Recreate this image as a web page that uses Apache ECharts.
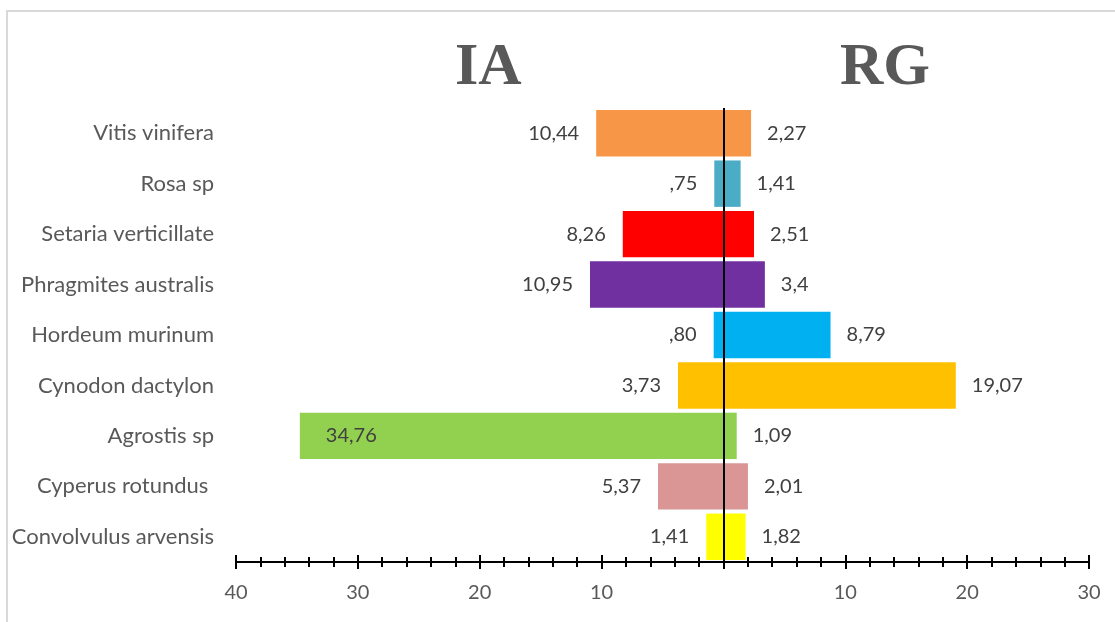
<!DOCTYPE html>
<html>
<head>
<meta charset="utf-8">
<script src="https://cdn.jsdelivr.net/npm/echarts@6/dist/echarts.min.js"></script>
<style>
html,body{margin:0;padding:0;background:#fff;}
#c{width:1115px;height:622px;}
</style>
</head>
<body>
<div id="c"></div>
<script>
const categories = ['Vitis vinifera','Rosa sp','Setaria verticillate','Phragmites australis','Hordeum murinum','Cynodon dactylon','Agrostis sp','Cyperus rotundus ','Convolvulus arvensis'];
const iaValues = [10.44, 0.75, 8.26, 10.95, 0.80, 3.73, 34.76, 5.37, 1.41];
const rgValues = [2.27, 1.41, 2.51, 3.4, 8.79, 19.07, 1.09, 2.01, 1.82];
const barColors = ['#F79646','#4BACC6','#FF0000','#7030A0','#00B0F0','#FFC000','#92D050','#D99694','#FFFF00'];
const titleLeft = 'IA';
const titleRight = 'RG';

const FONT = 'Lato';
const chart = echarts.init(document.getElementById('c'));

function fmtLeft(v){ let s = Math.abs(v).toFixed(2).replace('.', ','); if (s.startsWith('0')) s = s.slice(1); return s; }
function fmtRight(v){ return String(v).replace('.', ','); }

const leftData = iaValues.map((v,i)=>{
  const item = {value: -v, itemStyle:{color: barColors[i]}};
  if (v > 30) item.label = {position:'insideLeft', distance: 26};
  return item;
});
const rightData = rgValues.map((v,i)=>({value: v, itemStyle:{color: barColors[i]}}));

const labelStyle = {fontFamily: FONT, fontSize: 20, color: '#404040'};

const xCommon = {
  type: 'value', min: -40, max: 30, interval: 10,
  splitLine: {show:false},
  axisLine: {show:true, lineStyle:{color:'#000', width:2}},
};

chart.setOption({
  animation: false,
  backgroundColor: '#fff',
  graphic: [
    {type:'rect', shape:{x:7, y:11, width:1200, height:700}, style:{fill:'none', stroke:'#d9d9d9', lineWidth:2}, silent:true},
    {type:'text', left: 487 - 32, top: 38, style:{text: titleLeft, font: 'bold 60px "Liberation Serif"', fill:'#595959'}},
    {type:'text', left: 883 - 43, top: 38, style:{text: titleRight, font: 'bold 60px "Liberation Serif"', fill:'#595959'}}
  ],
  grid: {left: 236, right: 26, top: 108, bottom: 60, containLabel: false},
  xAxis: [
    Object.assign({}, xCommon, {
      axisTick: {show:true, length:7, inside:false, lineStyle:{color:'#000', width:2}},
      minorTick: {show:true, splitNumber:5, length:5, lineStyle:{color:'#000', width:2}},
      axisLabel: {show:true, margin: 21, fontFamily: FONT, fontSize: 20, color:'#595959',
        formatter: v => v === 0 ? '' : String(Math.abs(v))}
    }),
    Object.assign({}, xCommon, {
      position: 'bottom',
      axisTick: {show:true, length:7, inside:true, lineStyle:{color:'#000', width:2}},
      minorTick: {show:true, splitNumber:5, length:5, lineStyle:{color:'#000', width:2}},
      axisLabel: {show:false}
    })
  ],
  yAxis: {
    type: 'category', data: categories, inverse: true,
    axisLine: {show:false}, axisTick: {show:false}, splitLine:{show:false},
    axisLabel: {margin: 22, fontFamily: FONT, fontSize: 22, color:'#595959'}
  },
  series: [
    {
      name: titleLeft, type: 'bar', data: leftData, barGap: '-100%', barCategoryGap: '8%',
      label: Object.assign({show:true, position:'left', distance:17, formatter: p => fmtLeft(p.value)}, labelStyle),
      markLine: {silent:true, symbol:'none', label:{show:false}, lineStyle:{color:'#000', width:2, type:'solid'}, data:[{xAxis:0}]}
    },
    {
      name: titleRight, type: 'bar', data: rightData, barGap: '-100%', barCategoryGap: '8%',
      label: Object.assign({show:true, position:'right', distance:16, formatter: p => fmtRight(p.value)}, labelStyle)
    }
  ]
});
</script>
</body>
</html>
